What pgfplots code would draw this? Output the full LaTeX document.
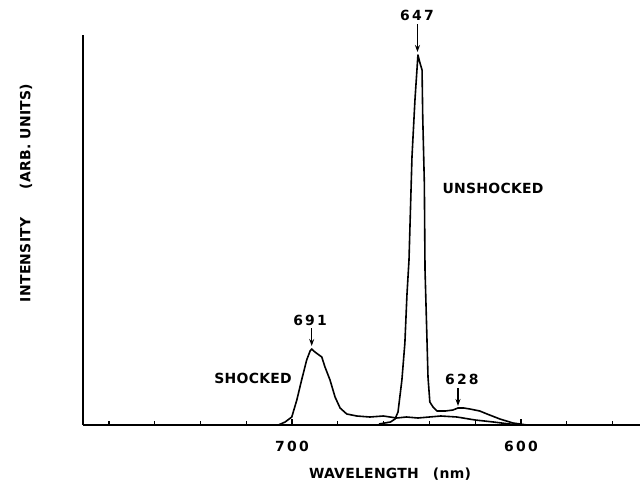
\documentclass[border=0pt]{standalone}
\usepackage{fontspec}
\setmainfont{DejaVu Sans}[LetterSpace=2]
\newfontfamily\numfont{DejaVu Sans}[LetterSpace=16]
\usepackage{pgfplots}
\pgfplotsset{compat=1.18}
\usetikzlibrary{arrows.meta}

% emission spectra, heights in px above the baseline
\pgfplotstableread{
lam h
662 1
657 3
655 6
653.7 13
652.0 45
650.7 82
649.8 130
648.9 165
647.6 268
646.3 325
645.0 370
644.1 362
643.2 355
642.9 308
642.2 242
641.9 155
641.2 98
640.6 48
639.8 23
638.4 18
636.7 14
633 14
629.7 15
627.5 17
625 17
622.3 16
618 14
614.8 11
609.2 6
603.5 2
597.4 0
}\unshocked
\pgfplotstableread{
lam h
712 0
706 0
703 3
700.1 8
697.9 25
695.8 45
693.6 65
692.1 74
691.4 76
690 73
687 68
685.6 58
683.4 45
681.2 28
679 17
676.1 11
671.7 9
666 8
660.1 9
654.3 7
650 8
645 7
640 8
635 9
628 8
620 5
612 3
605 1
600 0
}\shocked

\begin{document}
\begin{tikzpicture}
\path[use as bounding box] (-83bp,-67bp) rectangle (561bp,425bp);
\begin{axis}[
  at={(0,0)},anchor=south west,
  scale only axis,width=557bp,height=390bp,
  xmin=548,xmax=791.3,ymin=0,ymax=390,
  x dir=reverse,
  axis x line*=bottom,axis y line*=left,
  axis line style={line width=1.7bp,-},
  xtick={600,700},xticklabels={600,700},
  minor xtick={560,580,...,780},
  ytick=\empty,
  major tick length=6bp,minor tick length=4.5bp,
  every tick/.style={line width=1.3bp,black},
  xticklabel style={font=\numfont\bfseries\fontsize{14}{16}\selectfont,yshift=-13bp},
  clip=false,
  font=\bfseries\fontsize{14}{16}\selectfont,
  tick align=inside,xtick align=inside
]
  \addplot[black,line width=1.6bp,line join=round] table[x=lam,y=h] {\unshocked};
  \addplot[black,line width=1.6bp,line join=round] table[x=lam,y=h] {\shocked};

  \node[font=\numfont\bfseries\fontsize{14}{16}\selectfont] at (axis cs:645.4,410) {647};
  \draw[-{Stealth[length=7bp,width=5bp]},line width=1.5bp] (axis cs:645.2,401) -- (axis cs:645.2,373);
  \node[font=\numfont\bfseries\fontsize{14}{16}\selectfont] at (axis cs:692.1,105) {691};
  \draw[-{Stealth[length=7bp,width=5bp]},line width=1.5bp] (axis cs:691.4,97) -- (axis cs:691.4,79);
  \node[font=\numfont\bfseries\fontsize{14}{16}\selectfont] at (axis cs:625.8,46) {628};
  \draw[-{Stealth[length=7bp,width=5bp]},line width=1.5bp] (axis cs:627.5,37) -- (axis cs:627.5,19);

  \node at (axis cs:717.0,47) {SHOCKED};
  \node at (axis cs:612.2,237) {UNSHOCKED};

  \node at (axis cs:657.2,-49) {WAVELENGTH\hspace{14bp}(nm)};
  \node[rotate=90] at (axis cs:816.2,232) {INTENSITY\hspace{28bp}(ARB. UNITS)};
\end{axis}
\end{tikzpicture}
\end{document}
